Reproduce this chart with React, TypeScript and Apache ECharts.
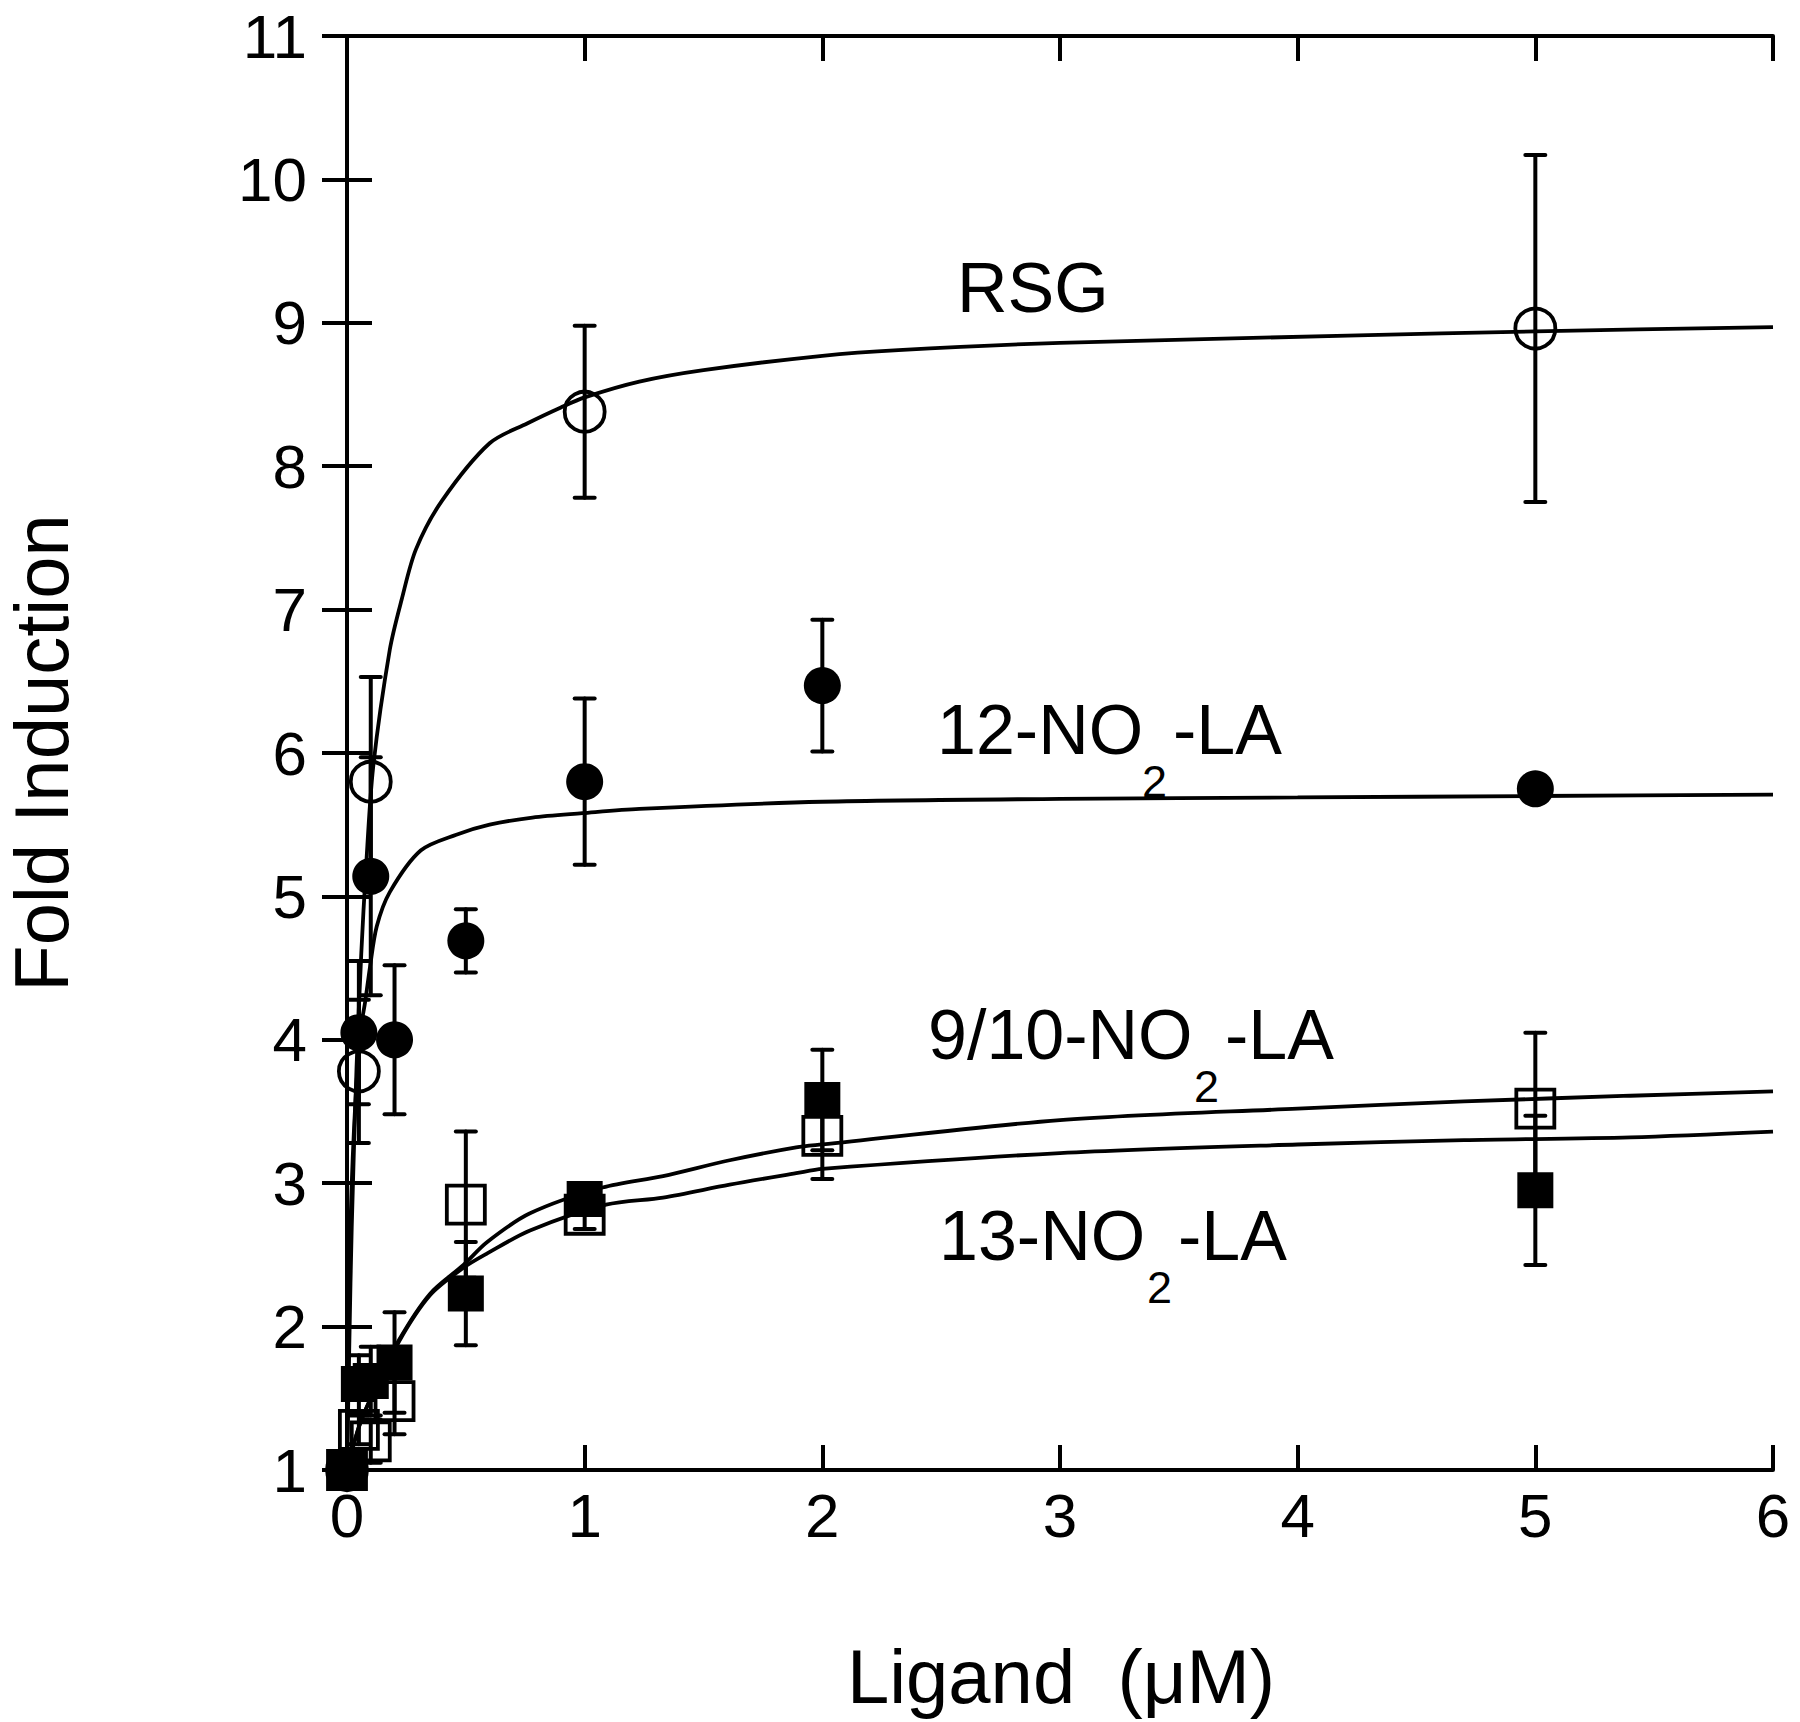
import React, { useEffect, useRef } from "react";
import * as echarts from "echarts";

// ---- Data ----
const xTicks = [0, 1, 2, 3, 4, 5, 6];
const yTicks = [1, 2, 3, 4, 5, 6, 7, 8, 9, 10, 11];

// RSG (open circles)
const rsgX = [0, 0.05, 0.1, 1, 5];
const rsgY = [1, 3.78, 5.8, 8.38, 8.96];
const rsgErr = [0, 0.5, 0.73, 0.6, 1.21];

// 12-NO2-LA (filled circles)
const no12X = [0, 0.05, 0.1, 0.2, 0.5, 1, 2, 5];
const no12Y = [1, 4.05, 5.14, 4.0, 4.69, 5.8, 6.47, 5.75];
const no12Err = [0, 0.5, 0.83, 0.52, 0.22, 0.58, 0.46, 0.05];

// 9/10-NO2-LA (open squares)
const no910X = [0, 0.05, 0.1, 0.2, 0.5, 1, 2, 5];
const no910Y = [1, 1.28, 1.2, 1.48, 2.85, 2.78, 3.33, 3.52];
const no910Err = [0, 0.1, 0.15, 0.23, 0.51, 0.1, 0.3, 0.53];

// 13-NO2-LA (filled squares)
const no13X = [0, 0.05, 0.1, 0.2, 0.5, 1, 2, 5];
const no13Y = [1, 1.6, 1.62, 1.75, 2.23, 2.89, 3.58, 2.95];
const no13Err = [0, 0.2, 0.24, 0.35, 0.36, 0.1, 0.35, 0.52];

// Fitted curves
const rsgCurveX = [0, 0.01, 0.02, 0.04, 0.06, 0.08, 0.11, 0.18, 0.23, 0.29, 0.4, 0.6, 0.76, 0.9, 1, 1.23, 1.5, 2, 2.32, 3, 4.21, 5, 6];
const rsgCurveY = [1, 1.9, 2.7, 3.8, 4.6, 5.2, 5.9, 6.72, 7.07, 7.42, 7.76, 8.16, 8.3, 8.41, 8.48, 8.59, 8.67, 8.77, 8.81, 8.86, 8.91, 8.94, 8.97];

const no12CurveX = [0, 0.005, 0.01, 0.02, 0.04, 0.06, 0.076, 0.097, 0.125, 0.18, 0.31, 0.46, 0.6, 0.78, 0.99, 1.23, 2, 3, 4, 5, 6];
const no12CurveY = [1, 1.6, 2.3, 3.0, 3.7, 4.1, 4.26, 4.51, 4.79, 5.03, 5.32, 5.43, 5.5, 5.55, 5.58, 5.61, 5.66, 5.68, 5.69, 5.7, 5.71];

const no910CurveX = [0, 0.05, 0.1, 0.14, 0.22, 0.35, 0.49, 0.59, 0.77, 1.075, 1.33, 1.61, 1.89, 2, 3, 4, 4.7, 5.4, 6];
const no910CurveY = [1, 1.3, 1.5, 1.63, 1.91, 2.23, 2.43, 2.59, 2.79, 2.97, 3.05, 3.16, 3.25, 3.27, 3.44, 3.52, 3.57, 3.61, 3.64];

const no13CurveX = [0, 0.05, 0.1, 0.14, 0.22, 0.35, 0.49, 0.59, 0.77, 1.09, 1.33, 1.61, 1.89, 2, 3, 4, 4.7, 5.4, 6];
const no13CurveY = [1, 1.3, 1.5, 1.61, 1.9, 2.22, 2.41, 2.51, 2.67, 2.85, 2.9, 2.99, 3.07, 3.1, 3.21, 3.27, 3.3, 3.32, 3.36];

const FONT = "'Liberation Sans', Arial, Helvetica, sans-serif";

const zip2 = (xs: number[], ys: number[]) => xs.map((x, i) => [x, ys[i]]);
const zip3 = (xs: number[], ys: number[], es: number[]) => xs.map((x, i) => [x, ys[i], es[i]]);

function errorSeries(data: number[][]) {
  return {
    type: "custom",
    xAxisIndex: 0,
    yAxisIndex: 0,
    z: 3,
    encode: { x: 0, y: 1 },
    data,
    renderItem: (params: any, api: any) => {
      const x = api.value(0);
      const y = api.value(1);
      const e = api.value(2);
      if (!e) return null;
      const top = api.coord([x, y + e]);
      const bot = api.coord([x, y - e]);
      const hw = 10;
      const st = { stroke: "#000", lineWidth: 4, lineCap: "round" };
      return {
        type: "group",
        children: [
          { type: "line", shape: { x1: top[0], y1: top[1], x2: bot[0], y2: bot[1] }, style: st },
          { type: "line", shape: { x1: top[0] - hw, y1: top[1], x2: top[0] + hw, y2: top[1] }, style: st },
          { type: "line", shape: { x1: bot[0] - hw, y1: bot[1], x2: bot[0] + hw, y2: bot[1] }, style: st },
        ],
      };
    },
  };
}

function curveSeries(data: number[][]) {
  return {
    type: "line",
    xAxisIndex: 0,
    yAxisIndex: 0,
    z: 2,
    data,
    smooth: 0.3,
    showSymbol: false,
    symbol: "none",
    silent: true,
    lineStyle: { color: "#000", width: 3.8, opacity: 1 },
  };
}

function scatterSeries(data: number[][], symbol: string, size: number, open: boolean) {
  return {
    type: "scatter",
    xAxisIndex: 0,
    yAxisIndex: 0,
    z: 5,
    data,
    symbol,
    symbolSize: size,
    itemStyle: open
      ? { color: "rgba(255,255,255,0)", borderColor: "#000", borderWidth: 3.8, opacity: 1 }
      : { color: "#000", borderColor: "#000", borderWidth: 0, opacity: 1 },
    emphasis: { disabled: true },
  };
}

function txt(x: number, y: number, text: string, size: number, extra: any = {}) {
  const { align, lineHeight, ...rest } = extra;
  return {
    type: "text",
    x,
    y,
    z: 10,
    ...rest,
    style: {
      text,
      fontSize: size,
      fontFamily: FONT,
      fill: "#000",
      align: align || "left",
      verticalAlign: "middle",
      ...(lineHeight ? { lineHeight } : {}),
    },
  };
}

export default function App() {
  const ref = useRef<HTMLDivElement>(null);
  useEffect(() => {
    if (!ref.current) return;
    const chart = echarts.init(ref.current, null, { renderer: "svg" });
    const axisLine = { show: true, lineStyle: { color: "#000", width: 4 } };
    const tickStyle = { color: "#000", width: 4 };
    const labelFont = { fontSize: 62, fontFamily: FONT, color: "#000" };
    const option: any = {
      animation: false,
      backgroundColor: "#fff",
      grid: {
        left: 347,
        right: 27,
        top: 36,
        bottom: 252,
        containLabel: false,
        outerBoundsMode: "none",
      },
      xAxis: [
        {
          type: "value",
          min: xTicks[0],
          max: xTicks[xTicks.length - 1],
          interval: 1,
          position: "bottom",
          axisLine,
          axisTick: { show: true, inside: true, length: 25, lineStyle: tickStyle },
          axisLabel: { ...labelFont, margin: 14 },
          splitLine: { show: false },
        },
        {
          type: "value",
          min: xTicks[0],
          max: xTicks[xTicks.length - 1],
          interval: 1,
          position: "top",
          axisLine,
          axisTick: { show: true, inside: true, length: 25, lineStyle: tickStyle },
          axisLabel: { show: false },
          splitLine: { show: false },
        },
      ],
      yAxis: [
        {
          type: "value",
          min: yTicks[0],
          max: yTicks[yTicks.length - 1],
          interval: 1,
          position: "left",
          name: "Fold Induction",
          nameLocation: "middle",
          nameRotate: 90,
          nameGap: 276,
          nameTextStyle: { fontSize: 76, fontFamily: FONT, color: "#000", lineHeight: 60 },
          axisLine,
          axisTick: { show: true, inside: false, length: 25, lineStyle: tickStyle },
          axisLabel: { ...labelFont, margin: 40, padding: [0, 0, 22, 0] },
          splitLine: { show: false },
        },
        {
          type: "value",
          min: yTicks[0],
          max: yTicks[yTicks.length - 1],
          interval: 1,
          position: "right",
          axisLine,
          axisTick: { show: true, inside: false, length: 25, lineStyle: tickStyle },
          axisLabel: { show: false },
          splitLine: { show: false },
        },
      ],
      series: [
        curveSeries(zip2(rsgCurveX, rsgCurveY)),
        curveSeries(zip2(no12CurveX, no12CurveY)),
        curveSeries(zip2(no910CurveX, no910CurveY)),
        curveSeries(zip2(no13CurveX, no13CurveY)),
        errorSeries(zip3(rsgX, rsgY, rsgErr)),
        errorSeries(zip3(no12X, no12Y, no12Err)),
        errorSeries(zip3(no910X, no910Y, no910Err)),
        errorSeries(zip3(no13X, no13Y, no13Err)),
        scatterSeries(zip2(no910X, no910Y), "rect", 38, true),
        scatterSeries(zip2(no13X, no13Y), "rect", 36, false),
        scatterSeries(zip2(rsgX, rsgY), "circle", 40, true),
        scatterSeries(zip2(no12X, no12Y), "circle", 37, false),
      ],
      graphic: [
        txt(1061, 1676, "Ligand  (μM)", 76, { align: "center" }),
        txt(957, 288, "RSG", 70),
        txt(937, 730, "12-NO", 70),
        txt(1142, 781, "2", 45),
        txt(1173, 730, "-LA", 70),
        txt(928, 1035, "9/10-NO", 70),
        txt(1194, 1086, "2", 45),
        txt(1225, 1035, "-LA", 70),
        txt(939, 1236, "13-NO", 70),
        txt(1147, 1287, "2", 45),
        txt(1178, 1236, "-LA", 70),
      ],
    };
    chart.setOption(option);
    return () => chart.dispose();
  }, []);
  return (
    <div
      ref={ref}
      style={{ position: "fixed", left: 0, top: 0, width: 1800, height: 1722, background: "#fff" }}
    />
  );
}
